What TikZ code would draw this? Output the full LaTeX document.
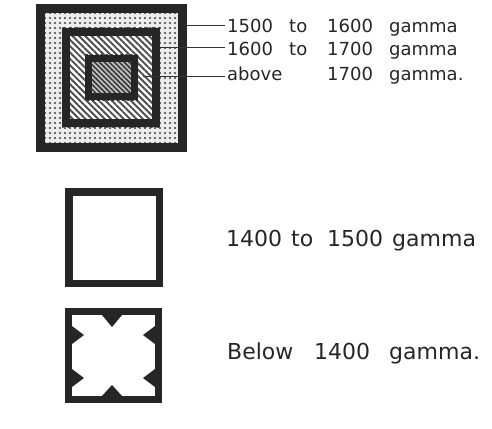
\documentclass[tikz,border=0pt]{standalone}
\usepackage{fontspec}
\setmainfont{DejaVu Sans}
\usetikzlibrary{patterns.meta}
\tikzset{
  frame/.style={draw=black!85, line join=miter},
  lbl/.style={inner sep=0pt, anchor=base west, text=black!85, font=\fontsize{18}{18}\selectfont},
  biglbl/.style={inner sep=0pt, anchor=base west, text=black!85, font=\fontsize{22}{22}\selectfont},
  leader/.style={draw=black!80, line width=1pt},
  notch/.style={fill=black!85}
}
\begin{document}
\begin{tikzpicture}[x=1pt,y=-1pt]
\useasboundingbox (0,0) rectangle (492,428);
% top nested squares
\fill[gray!15] (40,8) rectangle (183,148);
\fill[pattern={Dots[distance=5pt, radius=1.05pt]}, pattern color=black!75] (40,8) rectangle (183,148);
\fill[white] (62,28) rectangle (160,127);
\fill[pattern={Lines[angle=-45, distance=4.5pt, line width=1.9pt]}, pattern color=black!70] (62,28) rectangle (160,127);
\fill[gray!50] (85,55) rectangle (138,100);
\fill[pattern={Lines[angle=-45, distance=3.5pt, line width=1.5pt]}, pattern color=black!80] (85,55) rectangle (138,100);
\draw[frame, line width=9pt] (40.5,8.5) rectangle (182.5,147.5);
\draw[frame, line width=8pt] (66,32) rectangle (156,123);
\draw[frame, line width=7pt] (88.5,58.5) rectangle (134.5,96.5);
% leaders and labels
\coordinate (s1) at (187,26);
\coordinate (s2) at (160,48);
\coordinate (s3) at (143,76);
\coordinate (e1) at (225,26);
\coordinate (e2) at (225,48);
\coordinate (e3) at (225,76);
\draw[leader] (s1) -- (e1);
\draw[leader] (s2) -- (e2);
\draw[leader] (s3) -- (e3);
\node[lbl] (a1) at (227,32.5) {1500};
\node[lbl] (a2) at (289,32.5) {to};
\node[lbl] (a3) at (327,32.5) {1600};
\node[lbl] (a4) at (389,32.5) {gamma};
\node[lbl] (b1) at (227,55.5) {1600};
\node[lbl] (b2) at (289,55.5) {to};
\node[lbl] (b3) at (327,55.5) {1700};
\node[lbl] (b4) at (389,55.5) {gamma};
\node[lbl] (c1) at (227,80.5) {above};
\node[lbl] (c3) at (327,80.5) {1700};
\node[lbl] (c4) at (389,80.5) {gamma.};
% plain square
\draw[frame, line width=7.5pt] (68.75,191.75) rectangle (159.25,283.25);
\node[biglbl] (d1) at (226,246) {1400};
\node[biglbl] (d2) at (291,246) {to};
\node[biglbl] (d3) at (327,246) {1500};
\node[biglbl] (d4) at (392,246) {gamma};
% notched square
\draw[frame, line width=7pt] (68.5,311.5) rectangle (158.5,399.5);
\fill[notch] (102,315) -- (112,327) -- (122,315) -- cycle;
\fill[notch] (102,396) -- (112,385) -- (122,396) -- cycle;
\fill[notch] (72,326) -- (84,335) -- (72,344) -- cycle;
\fill[notch] (72,369) -- (84,378) -- (72,387) -- cycle;
\fill[notch] (155,326) -- (143,335) -- (155,344) -- cycle;
\fill[notch] (155,369) -- (143,378) -- (155,387) -- cycle;
\node[biglbl] (f1) at (227,359) {Below};
\node[biglbl] (f2) at (314,359) {1400};
\node[biglbl] (f3) at (389,359) {gamma.};
\end{tikzpicture}
\end{document}
